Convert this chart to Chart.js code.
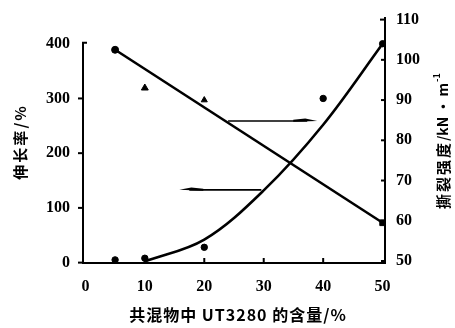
<!DOCTYPE html>
<html>
<head>
<meta charset="utf-8">
<script src="https://cdn.jsdelivr.net/npm/chart.js@4"></script>
<style>
  html, body { margin: 0; padding: 0; background: #fff; }
  #wrap { width: 455px; height: 328px; }
</style>
</head>
<body>
<div id="wrap"><canvas id="myChart" width="455" height="328"></canvas></div>
<script>
// measured points
const elongX = [5, 10, 20, 40, 50];
const elongY = [5, 8, 28, 300, 400];
const tearX = [5, 10, 20, 50];
const tearY = [102.5, 93, 90, 59.5];
const tearStyles = ["circle", "triangle", "triangle", "rect"];

// fitted curves
const elongFitX = [10, 20, 30, 40, 50];
const elongFitY = [2, 42, 132, 252, 400];
const tearFitX = [5, 50];
const tearFitY = [102.5, 59.5];

// arrows pointing to the axis each curve uses
const arrowTearX = [24, 39];
const arrowTearY = 84.8;
const arrowElongX = [29.6, 15.8];
const arrowElongY = 133;

// tick labels
const xTicks = [0, 10, 20, 30, 40, 50];
const elongTicks = [0, 100, 200, 300, 400];
const tearTicks = [50, 60, 70, 80, 90, 100, 110];

const tickFont = { family: "Liberation Serif", size: 16, weight: "bold" };
const cjkFont = "Noto Sans CJK SC";

const toXY = (xs, ys) => xs.map((x, i) => ({ x: x, y: ys[i] }));

const drawArrow = (ctx, x0, x1, y) => {
  const dir = x1 > x0 ? 1 : -1;
  ctx.beginPath();
  ctx.moveTo(x0, y);
  ctx.lineTo(x1 - dir * 10, y);
  ctx.lineWidth = 1.6;
  ctx.stroke();
  ctx.beginPath();
  ctx.moveTo(x1, y);
  ctx.lineTo(x1 - dir * 12, y - 2.4);
  ctx.lineTo(x1 - dir * 24, y - 1.2);
  ctx.lineTo(x1 - dir * 24, y + 0.8);
  ctx.closePath();
  ctx.fill();
};

const decor = {
  id: "decor",
  afterDraw(chart) {
    const ctx = chart.ctx;
    const xs = chart.scales.x;
    const yl = chart.scales.yL;
    const yr = chart.scales.yR;
    const area = chart.chartArea;
    ctx.save();
    ctx.strokeStyle = "#000";
    ctx.fillStyle = "#000";
    ctx.lineCap = "butt";

    // left axis line only up to 400, with a small hook
    const lx = area.left;
    const top400 = yl.getPixelForValue(400);
    ctx.lineWidth = 2;
    ctx.beginPath();
    ctx.moveTo(lx + 4, top400 - 1);
    ctx.lineTo(lx, top400 - 1);
    ctx.lineTo(lx, area.bottom);
    ctx.stroke();
    elongTicks.slice(0, -1).forEach((v) => {
      const y = yl.getPixelForValue(v);
      ctx.beginPath();
      ctx.moveTo(lx - 5, y);
      ctx.lineTo(lx, y);
      ctx.stroke();
    });

    // right axis ticks (inward) and top hook
    const rx = area.right;
    tearTicks.forEach((v, i) => {
      const y = yr.getPixelForValue(v);
      ctx.beginPath();
      ctx.moveTo(rx - (i === tearTicks.length - 1 ? 5 : 4), y);
      ctx.lineTo(rx, y);
      ctx.stroke();
    });

    // x ticks (inward)
    xTicks.slice(1, -1).forEach((v) => {
      const x = xs.getPixelForValue(v);
      ctx.beginPath();
      ctx.moveTo(x, area.bottom);
      ctx.lineTo(x, area.bottom - 5);
      ctx.stroke();
    });

    // arrows
    drawArrow(ctx, xs.getPixelForValue(arrowTearX[0]), xs.getPixelForValue(arrowTearX[1]), yr.getPixelForValue(arrowTearY));
    drawArrow(ctx, xs.getPixelForValue(arrowElongX[0]), xs.getPixelForValue(arrowElongX[1]), yl.getPixelForValue(arrowElongY));

    // titles
    ctx.textBaseline = "middle";
    ctx.textAlign = "center";
    ctx.font = "bold 16px '" + cjkFont + "'";
    ctx.letterSpacing = "1px";
    ctx.fillText("共混物中 UT3280 的含量/%", 238, 315);

    ctx.save();
    ctx.translate(20, 142);
    ctx.rotate(-Math.PI / 2);
    ctx.font = "bold 15px '" + cjkFont + "'";
    ctx.letterSpacing = "2px";
    ctx.fillText("伸长率/%", 0, 0);
    ctx.restore();

    ctx.save();
    ctx.translate(442, 142);
    ctx.rotate(-Math.PI / 2);
    ctx.textAlign = "left";
    ctx.font = "bold 15px '" + cjkFont + "'";
    ctx.letterSpacing = "2px";
    const cjk = "撕裂强度";
    const rest = "/kN · m";
    const w1 = ctx.measureText(cjk).width;
    ctx.font = "bold 14px '" + cjkFont + "'";
    ctx.letterSpacing = "0px";
    const w2 = ctx.measureText(rest).width;
    const total = w1 + w2 + 8;
    const x0 = -total / 2;
    ctx.font = "bold 15px '" + cjkFont + "'";
    ctx.letterSpacing = "2px";
    ctx.fillText(cjk, x0, 1);
    ctx.font = "bold 14px '" + cjkFont + "'";
    ctx.letterSpacing = "0px";
    ctx.fillText(rest, x0 + w1, 1);
    ctx.font = "bold 9px '" + cjkFont + "'";
    ctx.fillText("-1", x0 + w1 + w2 + 1, -5);
    ctx.restore();

    ctx.restore();
  },
};

const chart = new Chart(document.querySelector("#myChart").getContext("2d"), {
  type: "scatter",
  data: {
    datasets: [
      {
        data: toXY(elongFitX, elongFitY),
        yAxisID: "yL",
        showLine: true,
        borderColor: "#000",
        borderWidth: 2.6,
        pointRadius: 0,
        tension: 0.35,
      },
      {
        data: toXY(tearFitX, tearFitY),
        yAxisID: "yR",
        showLine: true,
        borderColor: "#000",
        borderWidth: 2.6,
        pointRadius: 0,
      },
      {
        data: toXY(elongX, elongY),
        yAxisID: "yL",
        pointStyle: "circle",
        pointRadius: 3.2,
        backgroundColor: "#000",
        borderColor: "#000",
      },
      {
        data: toXY(tearX, tearY),
        yAxisID: "yR",
        pointStyle: tearStyles,
        pointRadius: [3.5, 4, 3.5, 4],
        backgroundColor: "#000",
        borderColor: "#000",
      },
    ],
  },
  options: {
    responsive: false,
    animation: false,
    layout: { padding: { top: 18, left: 0, right: 0, bottom: 0 } },
    plugins: { legend: { display: false }, tooltip: { enabled: false } },
    scales: {
      x: {
        type: "linear",
        min: -0.4,
        max: 50.4,
        afterBuildTicks: (s) => { s.ticks = xTicks.map((v) => ({ value: v })); },
        afterFit: (s) => { s.height = 65; },
        grid: { display: false },
        border: { display: true, color: "#000", width: 2 },
        ticks: { color: "#000", font: tickFont, padding: 6, maxRotation: 0 },
      },
      yL: {
        type: "linear",
        position: "left",
        min: -0.7,
        max: 447,
        afterBuildTicks: (s) => { s.ticks = elongTicks.map((v) => ({ value: v })); },
        afterFit: (s) => { s.width = 83; },
        grid: { display: false },
        border: { display: false },
        ticks: { color: "#000", font: tickFont, padding: 5 },
      },
      yR: {
        type: "linear",
        position: "right",
        min: 49.5,
        max: 110.4,
        afterBuildTicks: (s) => { s.ticks = tearTicks.map((v) => ({ value: v })); },
        afterFit: (s) => { s.width = 70; },
        grid: { display: false },
        border: { display: true, color: "#000", width: 2 },
        ticks: { color: "#000", font: tickFont, padding: 3 },
      },
    },
  },
  plugins: [decor],
});
</script>
</body>
</html>
